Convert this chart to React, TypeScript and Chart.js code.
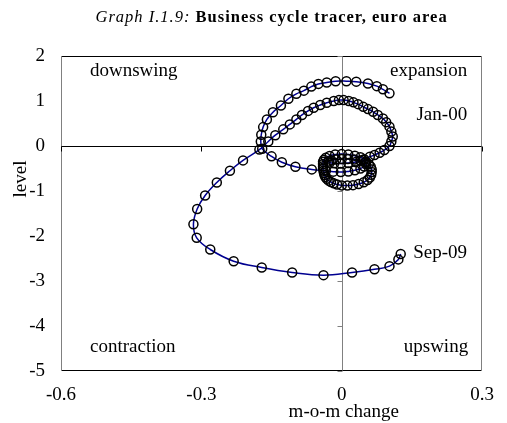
import React, { useEffect, useRef } from "react";
import { Chart, registerables } from "chart.js";

Chart.register(...registerables);

// Monthly path, Jan-00 ... Sep-09 (m-o-m change, level)
const momChange: number[] = [
  // 2000-2001 outer loop
  0.102, 0.088, 0.075, 0.056, 0.031, 0.010, -0.013, -0.032, -0.050, -0.065, -0.081, -0.097, -0.114,
  -0.130, -0.147, -0.160, -0.168, -0.172, -0.173, -0.170, -0.150, -0.128, -0.099, -0.064, -0.034,
  // 2002-2005 cluster
  -0.018, -0.002, 0.014, 0.028, 0.040, 0.048, 0.052, 0.052, 0.048, 0.040, 0.028, 0.014, 0.000,
  -0.014, -0.026, -0.034, -0.038, -0.040, -0.040, -0.040, -0.040, -0.039, -0.038, -0.037, -0.035,
  -0.032, -0.028, -0.023, -0.017, -0.010,
  0.000, 0.012, 0.024, 0.036, 0.047, 0.055, 0.060, 0.063, 0.064, 0.064, 0.062, 0.058,
  0.050, 0.040, 0.027, 0.013, 0.000, -0.012, -0.022, -0.028, -0.026, -0.016, -0.002, 0.014, 0.030, 0.045,
  // 2005-2009 inner loop and contraction
  0.060, 0.070, 0.081, 0.091, 0.102, 0.106, 0.109, 0.106, 0.102, 0.095, 0.088, 0.077, 0.067, 0.056,
  0.046, 0.035, 0.025, 0.015, 0.004, -0.006, -0.017, -0.032, -0.046, -0.060, -0.072, -0.085, -0.097,
  -0.111, -0.125, -0.142, -0.157, -0.176, -0.211, -0.239, -0.267, -0.292, -0.309, -0.317, -0.310,
  -0.281, -0.231, -0.171, -0.106, -0.039, 0.022, 0.070, 0.102, 0.121, 0.126,
];

const level: number[] = [
  1.17, 1.26, 1.33, 1.39, 1.43, 1.44, 1.44, 1.41, 1.38, 1.32, 1.23, 1.16, 1.05,
  0.90, 0.75, 0.59, 0.42, 0.25, 0.10, -0.06, -0.23, -0.36, -0.46, -0.52, -0.55,
  -0.57, -0.58, -0.565, -0.54, -0.50, -0.455, -0.405, -0.35, -0.295, -0.25, -0.215, -0.19, -0.18,
  -0.19, -0.22, -0.26, -0.305, -0.35, -0.40, -0.45, -0.50, -0.55, -0.60, -0.645, -0.69,
  -0.73, -0.77, -0.80, -0.83, -0.855,
  -0.875, -0.88, -0.87, -0.845, -0.805, -0.755, -0.70, -0.64, -0.58, -0.52, -0.46, -0.405,
  -0.36, -0.325, -0.30, -0.29, -0.29, -0.30, -0.32, -0.345, -0.37, -0.385, -0.39, -0.38, -0.355, -0.31,
  -0.24, -0.20, -0.15, -0.09, 0.00, 0.10, 0.21, 0.32, 0.43, 0.53, 0.61, 0.69, 0.76, 0.82,
  0.87, 0.93, 0.97, 1.00, 1.02, 1.02, 1.00, 0.96, 0.91, 0.85, 0.78, 0.69, 0.59,
  0.48, 0.37, 0.24, 0.10, -0.08, -0.32, -0.55, -0.81, -1.10, -1.40, -1.74, -2.04,
  -2.30, -2.56, -2.70, -2.81, -2.87, -2.81, -2.74, -2.67, -2.52, -2.40,
];

const xTicks: number[] = [-0.6, -0.3, 0, 0.3];
const yTicks: number[] = [2, 1, 0, -1, -2, -3, -4, -5];

const titleItalic = "Graph I.1.9: ";
const titleBold = "Business cycle tracer, euro area";
const xTitle = "m-o-m change";
const yTitle = "level";

const SERIF = '"Liberation Serif", "Times New Roman", serif';

const decorPlugin = {
  id: "decor",
  beforeDatasetsDraw(chart: any) {
    const { ctx, chartArea: a, scales } = chart;
    const xs = scales.x;
    const ys = scales.y;
    ctx.save();
    ctx.lineWidth = 1;
    const L = Math.round(a.left) + 0.5;
    const R = Math.round(a.right) - 0.5;
    const T = Math.round(a.top) + 0.5;
    const B = Math.round(a.bottom) - 0.5;
    // frame
    ctx.strokeStyle = "#000";
    ctx.beginPath();
    ctx.moveTo(L, T); ctx.lineTo(R, T);
    ctx.moveTo(L, B); ctx.lineTo(R, B);
    ctx.stroke();
    ctx.strokeStyle = "#808080";
    ctx.beginPath();
    ctx.moveTo(L, T); ctx.lineTo(L, B);
    ctx.moveTo(R, T); ctx.lineTo(R, B);
    ctx.stroke();
    // zero axes
    const x0 = Math.round(xs.getPixelForValue(0)) + 0.5;
    const y0 = Math.round(ys.getPixelForValue(0)) + 0.5;
    ctx.strokeStyle = "#808080";
    ctx.beginPath();
    ctx.moveTo(x0, T); ctx.lineTo(x0, B);
    for (const v of yTicks) {
      const p = Math.round(ys.getPixelForValue(v)) + 0.5;
      ctx.moveTo(x0 - 5, p); ctx.lineTo(x0, p);
    }
    ctx.stroke();
    ctx.strokeStyle = "#000";
    ctx.beginPath();
    ctx.moveTo(L, y0); ctx.lineTo(R, y0);
    for (const v of xTicks) {
      const p = Math.round(xs.getPixelForValue(v)) + 0.5;
      ctx.moveTo(p, y0); ctx.lineTo(p, y0 + 5);
    }
    ctx.stroke();
    ctx.restore();
  },
  afterDraw(chart: any) {
    const { ctx, chartArea: a, scales } = chart;
    ctx.save();
    ctx.fillStyle = "#000";
    // title
    ctx.textBaseline = "alphabetic";
    ctx.textAlign = "left";
    (ctx as any).letterSpacing = "1px";
    ctx.font = `italic 16.5px ${SERIF}`;
    const w1 = ctx.measureText(titleItalic).width;
    ctx.font = `bold 16.5px ${SERIF}`;
    const w2 = ctx.measureText(titleBold).width;
    const cx = (a.left + a.right) / 2;
    const sx = cx - (w1 + w2) / 2;
    ctx.font = `italic 16.5px ${SERIF}`;
    ctx.fillText(titleItalic, sx, 22);
    ctx.font = `bold 16.5px ${SERIF}`;
    ctx.fillText(titleBold, sx + w1, 22);
    (ctx as any).letterSpacing = "0px";

    // quadrant and date labels
    ctx.font = `19px ${SERIF}`;
    ctx.textAlign = "left";
    ctx.fillText("downswing", a.left + 29, a.top + 20);
    ctx.fillText("contraction", a.left + 29, a.bottom - 19);
    ctx.fillText("Sep-09", a.right - 69, a.top + 202);
    ctx.textAlign = "right";
    ctx.fillText("expansion", a.right - 15, a.top + 20);
    ctx.fillText("Jan-00", a.right - 15, a.top + 64);
    ctx.fillText("upswing", a.right - 14, a.bottom - 19);

    // axis titles
    ctx.textAlign = "center";
    ctx.fillText(xTitle, scales.x.getPixelForValue(0) + 2, 417);
    ctx.save();
    ctx.translate(26, 179);
    ctx.rotate(-Math.PI / 2);
    ctx.fillText(yTitle, 0, 0);
    ctx.restore();
    ctx.restore();
  },
};

export default function App() {
  const ref = useRef<HTMLCanvasElement>(null);
  useEffect(() => {
    if (!ref.current) return;
    const points = momChange.map((x, i) => ({ x, y: level[i] }));
    const tickFont = { family: SERIF, size: 19 };
    const chart = new Chart(ref.current, {
      type: "scatter",
      data: {
        datasets: [
          {
            data: points,
            showLine: true,
            borderColor: "#000090",
            borderWidth: 1.5,
            tension: 0.4,
            pointRadius: 4.5,
            pointBorderColor: "#000",
            pointBorderWidth: 1.5,
            pointBackgroundColor: "rgba(0,0,0,0)",
            clip: false as any,
          },
        ],
      },
      options: {
        responsive: false,
        animation: false,
        devicePixelRatio: 1,
        layout: { padding: { top: 56, right: 15, left: 0, bottom: 0 } },
        plugins: { legend: { display: false }, tooltip: { enabled: false }, title: { display: false } },
        scales: {
          x: {
            type: "linear",
            min: -0.6,
            max: 0.3,
            afterBuildTicks: (s: any) => {
              s.ticks = xTicks.map((value) => ({ value }));
            },
            afterFit: (s: any) => {
              s.height = 52;
            },
            ticks: { padding: 13, font: tickFont, color: "#000", maxRotation: 0, callback: (v: any) => String(v) },
            grid: { display: false, drawTicks: false },
            border: { display: false },
          },
          y: {
            type: "linear",
            min: -5,
            max: 2,
            afterBuildTicks: (s: any) => {
              s.ticks = yTicks.map((value) => ({ value }));
            },
            afterFit: (s: any) => {
              s.width = 61;
            },
            ticks: { padding: 16, font: tickFont, color: "#000", callback: (v: any) => String(v) },
            grid: { display: false, drawTicks: false },
            border: { display: false },
          },
        },
      },
      plugins: [decorPlugin],
    });
    return () => chart.destroy();
  }, []);
  return (
    <div style={{ position: "fixed", left: 0, top: 0, width: 507, height: 423, background: "#fff" }}>
      <canvas ref={ref} width={507} height={423} style={{ width: 507, height: 423, display: "block" }} />
    </div>
  );
}
